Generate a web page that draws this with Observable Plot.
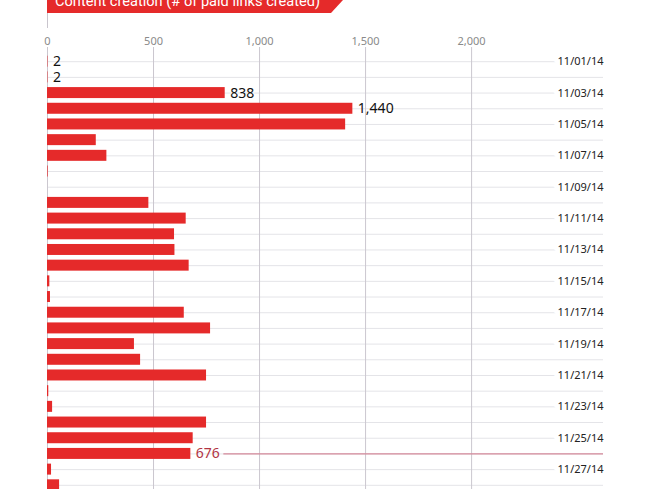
<!DOCTYPE html>
<html>
<head>
<meta charset="utf-8">
<script src="https://cdn.jsdelivr.net/npm/d3@7"></script>
<script src="https://cdn.jsdelivr.net/npm/@observablehq/plot@0.6"></script>
<style>
  html, body { margin: 0; padding: 0; background: #fff; overflow: hidden; }
  body { font-family: "Noto Sans", sans-serif; }
  #wrap { position: relative; width: 652px; height: 489px; overflow: hidden; }
  #banner {
    position: absolute; left: 47px; top: 0; width: 296px; height: 13px;
    background: #e52a2a; overflow: hidden;
    clip-path: polygon(0 0, 100% 0, calc(100% - 12px) 100%, 0 100%);
  }
  #banner span {
    position: absolute; left: 8px; top: -6px; color: #fff; white-space: nowrap;
    font-family: Roboto, sans-serif; font-size: 14.6px; line-height: 15px;
  }
  #stub { position: absolute; left: 47px; top: 13px; width: 1px; height: 15px; background: #c9c5cd; }
  #chart { position: absolute; left: 0; top: 0; }
</style>
</head>
<body>
<div id="wrap">
  <div id="chart"></div>
  <div id="banner"><span>Content creation (# of paid links created)</span></div>
  <div id="stub"></div>
</div>
<script>
const days = ["11/01/14","11/02/14","11/03/14","11/04/14","11/05/14","11/06/14","11/07/14","11/08/14","11/09/14","11/10/14","11/11/14","11/12/14","11/13/14","11/14/14","11/15/14","11/16/14","11/17/14","11/18/14","11/19/14","11/20/14","11/21/14","11/22/14","11/23/14","11/24/14","11/25/14","11/26/14","11/27/14","11/28/14"];
const links = [2,2,838,1440,1406,230,280,3,0,478,654,599,601,668,11,14,645,769,410,439,750,6,24,750,687,676,19,57];
const xTicks = [0, 500, 1000, 1500, 2000];
const labeledDays = ["11/01/14","11/02/14","11/03/14","11/04/14"];
const highlightDay = "11/26/14";
const dateLabels = days.filter((d, i) => i % 2 === 0);

const data = days.map((d, i) => ({day: d, value: links[i]}));
const labeled = data.filter(d => labeledDays.includes(d.day));
const highlight = data.filter(d => d.day === highlightDay);

const W = 652, H = 495, mT = 51, mB = 0, mL = 47, mR = 49;
const xMax = 2622;

const chart = Plot.plot({
  width: W,
  height: H,
  marginLeft: mL,
  marginRight: mR,
  marginTop: mT,
  marginBottom: mB,
  style: {fontFamily: "Noto Sans, sans-serif", background: "transparent"},
  x: {domain: [0, xMax], axis: null},
  y: {domain: days, type: "band", paddingInner: 0.3, paddingOuter: 0.3, round: false, axis: null},
  marks: [
    Plot.ruleY(data, {y: "day", stroke: "#e4e4e8", strokeWidth: 1}),
    Plot.ruleX(xTicks, {x: d => d, stroke: "#cbc7cf", strokeWidth: 1, insetTop: -4}),
    Plot.axisX(xTicks, {anchor: "top", label: null, tickSize: 0, tickPadding: 7, tickFormat: d3.format(","), fill: "#8a8a8a", fontSize: 11}),
    Plot.ruleY(highlight, {y: "day", x1: "value", x2: () => xMax, insetLeft: 33, stroke: "#d4899a", strokeWidth: 1.2}),
    Plot.barX(data, {y: "day", x: "value", fill: "#e52a2a"}),
    Plot.text(labeled, {y: "day", x: "value", text: d => d3.format(",")(d.value), dx: 5, textAnchor: "start", fontSize: 14, fill: "#111"}),
    Plot.text(highlight, {y: "day", x: "value", text: d => d3.format(",")(d.value), dx: 5, textAnchor: "start", fontSize: 14, fill: "#b23443"}),
    Plot.text(dateLabels, {y: d => d, text: d => d, frameAnchor: "right", textAnchor: "end", fontSize: 11, fill: "#222", stroke: "white", strokeWidth: 10})
  ]
});
document.getElementById("chart").appendChild(chart);
</script>
</body>
</html>
